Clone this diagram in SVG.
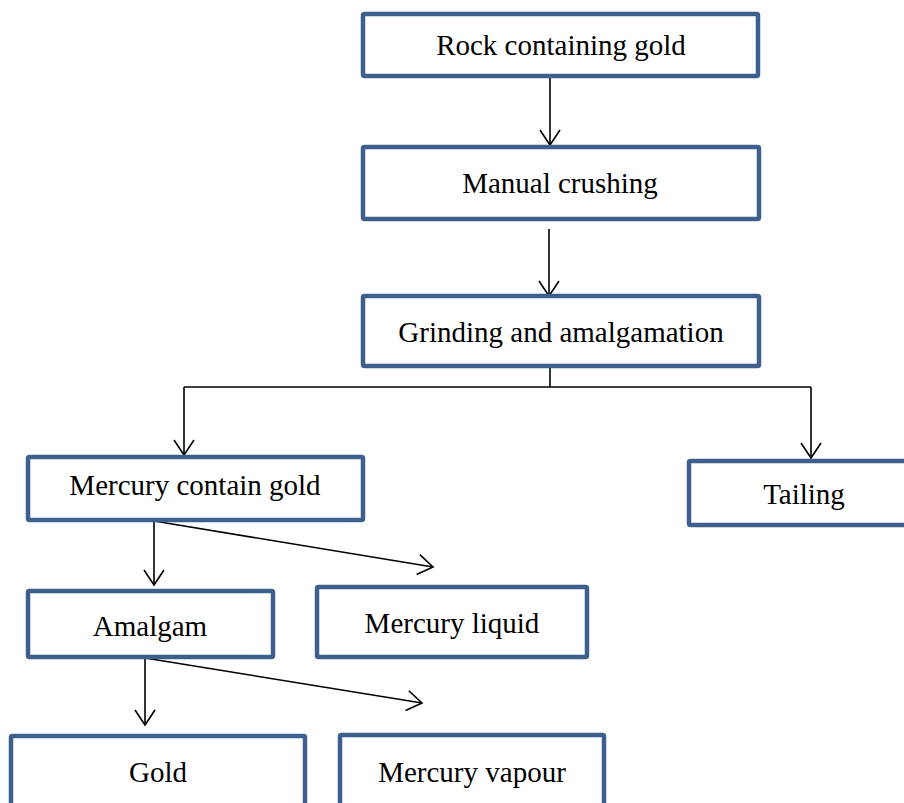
<svg xmlns="http://www.w3.org/2000/svg" width="904" height="803" viewBox="0 0 904 803">
<defs>
<style>
.box{fill:#fff;stroke:#3C5F8D;stroke-width:4.5}
.lbl{font-family:"Liberation Serif","Times New Roman",serif;font-size:29px;fill:#000;text-anchor:middle}
.ln{fill:none;stroke:#000;stroke-width:1.6}
</style>
<marker id="ah" viewBox="-17 -12 19 24" markerWidth="19" markerHeight="24" refX="0" refY="0" orient="auto" markerUnits="userSpaceOnUse">
<path d="M-15,-10 L0,0 L-15,10" fill="none" stroke="#000" stroke-width="1.6"/>
</marker>
</defs>
<rect width="904" height="803" fill="#fff"/>
<g id="connectors">
<line class="ln" x1="550" y1="78" x2="550" y2="145" marker-end="url(#ah)"/>
<line class="ln" x1="549" y1="229" x2="549" y2="296" marker-end="url(#ah)"/>
<polyline class="ln" points="550,368 550,387"/>
<polyline class="ln" points="184,387 811,387"/>
<line class="ln" x1="184" y1="387" x2="184" y2="455" marker-end="url(#ah)"/>
<line class="ln" x1="811" y1="387" x2="811" y2="458" marker-end="url(#ah)"/>
<line class="ln" x1="154" y1="519" x2="154" y2="585" marker-end="url(#ah)"/>
<line class="ln" x1="154" y1="521" x2="433" y2="567" marker-end="url(#ah)"/>
<line class="ln" x1="145" y1="658" x2="145" y2="725" marker-end="url(#ah)"/>
<line class="ln" x1="145" y1="658" x2="422" y2="703" marker-end="url(#ah)"/>
</g>
<g id="rock"><rect class="box" x="363" y="14" width="395" height="62" rx="1.5"/><text class="lbl" x="561" y="55">Rock containing gold</text></g>
<g id="crushing"><rect class="box" x="363" y="147" width="396" height="72" rx="1.5"/><text class="lbl" x="560" y="193">Manual crushing</text></g>
<g id="grinding"><rect class="box" x="363" y="296" width="396" height="70" rx="1.5"/><text class="lbl" x="561" y="342">Grinding and amalgamation</text></g>
<g id="mercury-gold"><rect class="box" x="28" y="457" width="335" height="63" rx="1.5"/><text class="lbl" x="195" y="495">Mercury contain gold</text></g>
<g id="tailing"><rect class="box" x="689" y="461" width="240" height="64" rx="1.5"/><text class="lbl" x="804" y="504">Tailing</text></g>
<g id="amalgam"><rect class="box" x="28" y="591" width="245" height="66" rx="1.5"/><text class="lbl" x="150" y="636">Amalgam</text></g>
<g id="mercury-liquid"><rect class="box" x="317" y="587" width="270" height="70" rx="1.5"/><text class="lbl" x="452" y="633">Mercury liquid</text></g>
<g id="gold"><rect class="box" x="11" y="736" width="294" height="80" rx="1.5"/><text class="lbl" x="158" y="782">Gold</text></g>
<g id="mercury-vapour"><rect class="box" x="340" y="735" width="264" height="80" rx="1.5"/><text class="lbl" x="472" y="782">Mercury vapour</text></g>
</svg>
